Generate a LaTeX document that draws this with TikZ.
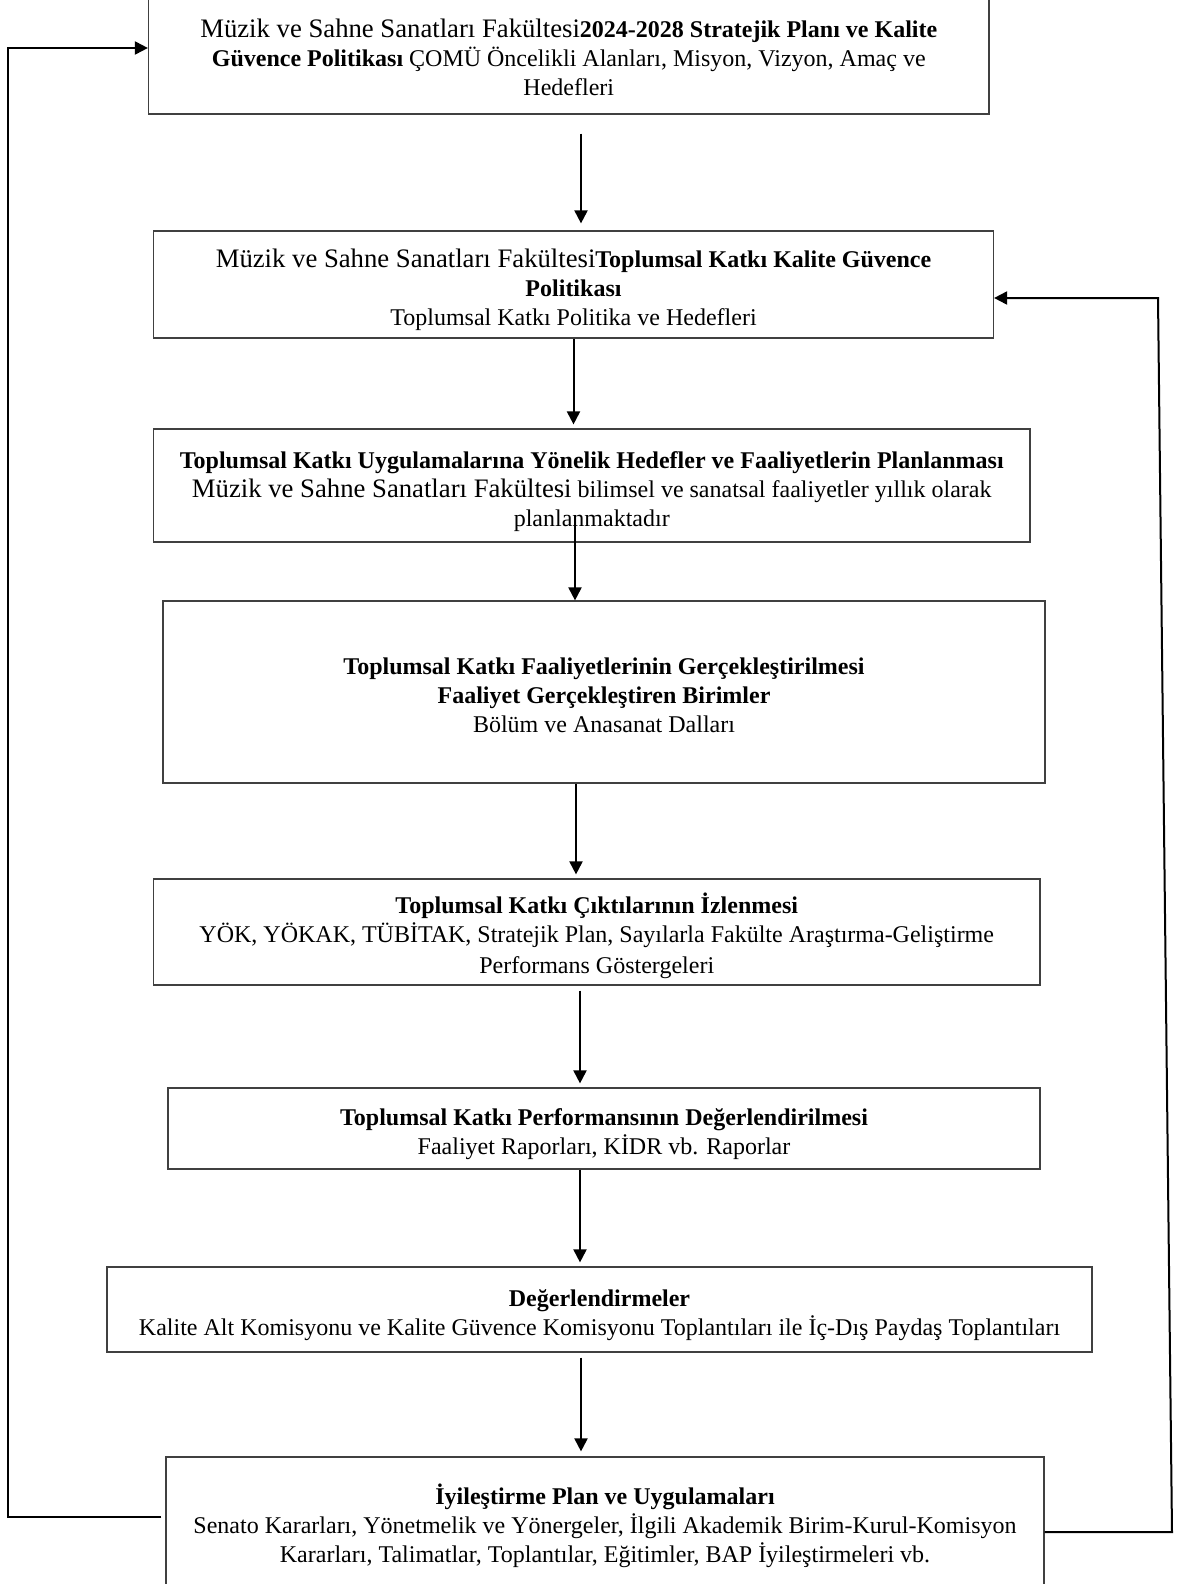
\documentclass[tikz,border=0pt]{standalone}
\usepackage{fontspec}
\setmainfont{Liberation Serif}
\usetikzlibrary{arrows.meta}
\newcommand{\largetxt}{\fontsize{26.7}{29}\selectfont}
\newcommand{\tstrut}{\rule{0pt}{30pt}}
\newcommand{\bstrut}{\rule[-7pt]{0pt}{7pt}}

\begin{document}
\begin{tikzpicture}[x=1pt,y=-1pt,
    box/.style={draw=black!75,line width=1.2pt,rectangle,inner sep=0pt,
                align=center,font=\fontsize{24}{29}\selectfont},
    flow/.style={draw=black,line width=2pt,-{Triangle[length=13pt,width=13pt]}}]
\useasboundingbox (0,0) rectangle (1189,1584);
\clip (0,0) rectangle (1189,1584);
\fill [white] (0,0) rectangle (1189,1584);

\node [box,minimum width=840.5pt,minimum height=118pt] (plan)        at (568.75,55)   {\tstrut{\largetxt Müzik ve Sahne Sanatları Fakültesi}\textbf{2024-2028 Stratejik Planı ve Kalite}\\ \textbf{Güvence Politikası} ÇOMÜ Öncelikli Alanları, Misyon, Vizyon, Amaç ve\\ Hedefleri\bstrut};
\node [box,minimum width=840pt,minimum height=107pt]   (policy)      at (573.5,284.5) {\tstrut{\largetxt Müzik ve Sahne Sanatları Fakültesi}\textbf{Toplumsal Katkı Kalite Güvence}\\ \textbf{Politikası}\\ Toplumsal Katkı Politika ve Hedefleri\bstrut};
\node [box,minimum width=876.5pt,minimum height=113pt] (planning)    at (591.75,485.5) {\tstrut\textbf{Toplumsal Katkı Uygulamalarına Yönelik Hedefler ve Faaliyetlerin Planlanması}\\ {\largetxt Müzik ve Sahne Sanatları Fakültesi} bilimsel ve sanatsal faaliyetler yıllık olarak\\ planlanmaktadır\bstrut};
\node [box,minimum width=882pt,minimum height=182pt]   (activities)  at (604,692)     {\tstrut\textbf{Toplumsal Katkı Faaliyetlerinin Gerçekleştirilmesi}\\ \textbf{Faaliyet Gerçekleştiren Birimler}\\ Bölüm ve Anasanat Dalları\bstrut};
\node [box,minimum width=886.5pt,minimum height=106pt] (monitoring)  at (596.75,932)  {\tstrut\textbf{Toplumsal Katkı Çıktılarının İzlenmesi}\\ YÖK, YÖKAK, TÜBİTAK, Stratejik Plan, Sayılarla Fakülte Araştırma-Geliştirme\\[2pt] Performans Göstergeleri\bstrut};
\node [box,minimum width=872pt,minimum height=81pt]    (performance) at (604,1128.5)  {\tstrut\textbf{Toplumsal Katkı Performansının Değerlendirilmesi}\\ Faaliyet Raporları, KİDR vb. Raporlar\bstrut};
\node [box,minimum width=985pt,minimum height=85pt]    (evaluation)  at (599.5,1309.5) {\tstrut\textbf{Değerlendirmeler}\\ Kalite Alt Komisyonu ve Kalite Güvence Komisyonu Toplantıları ile İç-Dış Paydaş Toplantıları\bstrut};
\node [box,minimum width=878pt,minimum height=130pt]   (improvement) at (605,1522)    {\tstrut\textbf{İyileştirme Plan ve Uygulamaları}\\ Senato Kararları, Yönetmelik ve Yönergeler, İlgili Akademik Birim-Kurul-Komisyon\\ Kararları, Talimatlar, Toplantılar, Eğitimler, BAP İyileştirmeleri vb.\bstrut};

% main flow
\draw [flow,shorten <=19pt,shorten >=7pt] ([xshift=12.25pt]plan.south) -- ([xshift=7.5pt]policy.north);
\draw [flow,shorten >=4pt] (policy.south) -- ([xshift=-18.25pt]planning.north);
\draw [flow] ([xshift=-16.75pt,yshift=-29.5pt]planning.center) -- ([xshift=-29pt]activities.north);
\draw [flow,shorten >=4pt] ([xshift=-28pt]activities.south) -- ([xshift=-20.75pt]monitoring.north);
\draw [flow,shorten <=5pt,shorten >=4pt] ([xshift=-16.75pt]monitoring.south) -- ([xshift=-24pt]performance.north);
\draw [flow,shorten >=4pt] ([xshift=-24pt]performance.south) -- ([xshift=-19.5pt]evaluation.north);
\draw [flow,shorten <=5pt,shorten >=5pt] ([xshift=-18.5pt]evaluation.south) -- ([xshift=-24pt]improvement.north);

% feedback
\coordinate (lbot) at (8,1517);
\coordinate (ltop) at (8,48);
\coordinate (rbot) at (1172,1532);
\coordinate (rtop) at (1158,298);
\draw [flow,shorten <=4pt] (improvement.west |- lbot) -- (lbot) -- (ltop) -- (plan.west |- ltop);
\draw [flow] (improvement.east |- rbot) -- (rbot) -- (rtop) -- (policy.east |- rtop);
\end{tikzpicture}
\end{document}
